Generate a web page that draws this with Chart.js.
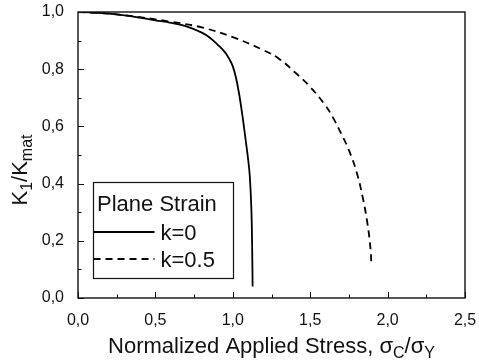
<!DOCTYPE html>
<html>
<head>
<meta charset="utf-8">
<script src="https://cdn.jsdelivr.net/npm/chart.js@4.4.1/dist/chart.umd.min.js"></script>
<style>
  html, body { margin: 0; padding: 0; background: #fff; }
  #wrap { width: 479px; height: 363px; }
</style>
</head>
<body>
<div id="wrap"><canvas id="kChart" width="479" height="363"></canvas></div>
<script>
// valeurs
const stressK0 = [0, 0.1, 0.2, 0.3, 0.4, 0.5, 0.6, 0.7, 0.8, 0.85, 0.9, 0.95, 0.98, 1.0, 1.02, 1.04, 1.06, 1.08, 1.1, 1.11, 1.12, 1.125, 1.128];
const ratioK0  = [1.0, 0.998, 0.994, 0.988, 0.98, 0.971, 0.962, 0.95, 0.928, 0.911, 0.887, 0.859, 0.833, 0.81, 0.772, 0.716, 0.646, 0.565, 0.48, 0.425, 0.31, 0.18, 0.04];

const stressK05 = [0, 0.2, 0.4, 0.6, 0.8, 1.0, 1.2, 1.3, 1.4, 1.5, 1.6, 1.65, 1.7, 1.75, 1.8, 1.84, 1.87, 1.89, 1.895];
const ratioK05  = [1.0, 0.994, 0.982, 0.966, 0.946, 0.912, 0.866, 0.836, 0.79, 0.738, 0.672, 0.628, 0.575, 0.517, 0.44, 0.35, 0.26, 0.17, 0.115];

const seriesLabels = ['k=0', 'k=0.5'];
const legendTitle = 'Plane Strain';

const xTicks = [0, 0.5, 1.0, 1.5, 2.0, 2.5];
const yTicks = [0, 0.2, 0.4, 0.6, 0.8, 1.0];

const FONT = '"Liberation Sans", Arial, sans-serif';

function toPoints(xs, ys) {
  return xs.map((x, i) => ({ x: x, y: ys[i] }));
}

const fmt = v => v.toFixed(1).replace('.', ',');

// =========================
// Cadre, ticks internes, titres, légende
// =========================

function drawRich(ctx, parts, x, y, align) {
  // parts: [texte, indice?]
  let total = 0;
  parts.forEach(p => {
    ctx.font = (p[1] ? '16px ' : '22px ') + FONT;
    total += ctx.measureText(p[0]).width;
  });
  let cx = align === 'center' ? x - total / 2 : x;
  parts.forEach(p => {
    ctx.font = (p[1] ? '16px ' : '22px ') + FONT;
    ctx.fillText(p[0], cx, p[1] ? y + 5 : y);
    cx += ctx.measureText(p[0]).width;
  });
}

const decorPlugin = {
  id: 'decor',
  afterDraw(chart) {
    const ctx = chart.ctx;
    const area = chart.chartArea;
    const xs = chart.scales.x;
    const ys = chart.scales.y;
    ctx.save();
    ctx.strokeStyle = '#111';
    ctx.fillStyle = '#111';
    ctx.lineWidth = 1.4;
    ctx.setLineDash([]);
    ctx.strokeRect(area.left, area.top, area.right - area.left, area.bottom - area.top);

    // ticks vers l'intérieur
    ctx.lineWidth = 1;
    for (let v = 0; v <= 2.5001; v += 0.25) {
      const px = Math.round(xs.getPixelForValue(v)) + 0.5;
      const major = Math.abs(v / 0.5 - Math.round(v / 0.5)) < 1e-6;
      ctx.beginPath();
      ctx.moveTo(px, area.bottom);
      ctx.lineTo(px, area.bottom - (major ? 6 : 3.5));
      ctx.stroke();
    }
    for (let v = 0; v <= 1.0001; v += 0.1) {
      const py = Math.round(ys.getPixelForValue(v)) + 0.5;
      const major = Math.round(v * 10) % 2 === 0;
      ctx.beginPath();
      ctx.moveTo(area.left, py);
      ctx.lineTo(area.left + (major ? 6 : 3.5), py);
      ctx.stroke();
    }

    // titres des axes
    ctx.textBaseline = 'alphabetic';
    ctx.textAlign = 'left';
    drawRich(ctx, [['Normalized Applied Stress, σ', false], ['C', true], ['/σ', false], ['Y', true]],
      (area.left + area.right) / 2, 353, 'center');

    ctx.save();
    ctx.translate(27, 170);
    ctx.rotate(-Math.PI / 2);
    drawRich(ctx, [['K', false], ['1', true], ['/K', false], ['mat', true]], 0, 0, 'center');
    ctx.restore();

    // légende
    const lx = area.left + 15.5, ly = 182.5, lw = 140, lh = 96;
    ctx.lineWidth = 1.2;
    ctx.strokeRect(lx, ly, lw, lh);
    ctx.font = '22px ' + FONT;
    ctx.fillText(legendTitle, lx + 3.5, 211);
    const rows = [232, 259];
    chart.data.datasets.forEach((ds, i) => {
      ctx.strokeStyle = ds.borderColor;
      ctx.lineWidth = ds.borderWidth;
      ctx.setLineDash(ds.borderDash || []);
      ctx.beginPath();
      ctx.moveTo(lx, rows[i]);
      ctx.lineTo(lx + 61, rows[i]);
      ctx.stroke();
      ctx.setLineDash([]);
      ctx.fillText(ds.label, lx + 67, rows[i] + 8);
    });
    ctx.restore();
  }
};

new Chart(document.getElementById('kChart'), {
  type: 'line',
  data: {
    datasets: [
      {
        label: seriesLabels[0],
        data: toPoints(stressK0, ratioK0),
        borderColor: '#000',
        borderWidth: 1.8,
        pointRadius: 0,
        tension: 0.4,
        fill: false
      },
      {
        label: seriesLabels[1],
        data: toPoints(stressK05, ratioK05),
        borderColor: '#000',
        borderWidth: 1.8,
        borderDash: [7, 5],
        pointRadius: 0,
        tension: 0.4,
        fill: false
      }
    ]
  },
  options: {
    responsive: false,
    animation: false,
    events: [],
    layout: { padding: { top: 12, right: 14, left: 0, bottom: 0 } },
    plugins: {
      legend: { display: false },
      tooltip: { enabled: false }
    },
    scales: {
      x: {
        type: 'linear',
        min: 0,
        max: 2.5,
        afterBuildTicks: s => { s.ticks = xTicks.map(v => ({ value: v })); },
        afterFit: s => { s.height = 65; s.paddingLeft = 0; s.paddingRight = 0; },
        grid: { display: false },
        border: { display: false },
        ticks: {
          color: '#111',
          font: { family: FONT, size: 16 },
          padding: 5,
          maxRotation: 0,
          callback: v => fmt(v)
        }
      },
      y: {
        type: 'linear',
        min: 0,
        max: 1.0,
        afterBuildTicks: s => { s.ticks = yTicks.map(v => ({ value: v })); },
        afterFit: s => { s.width = 78; s.paddingTop = 0; s.paddingBottom = 0; },
        grid: { display: false },
        border: { display: false },
        ticks: {
          color: '#111',
          font: { family: FONT, size: 16 },
          padding: 6,
          callback: v => fmt(v)
        }
      }
    }
  },
  plugins: [decorPlugin]
});
</script>
</body>
</html>
